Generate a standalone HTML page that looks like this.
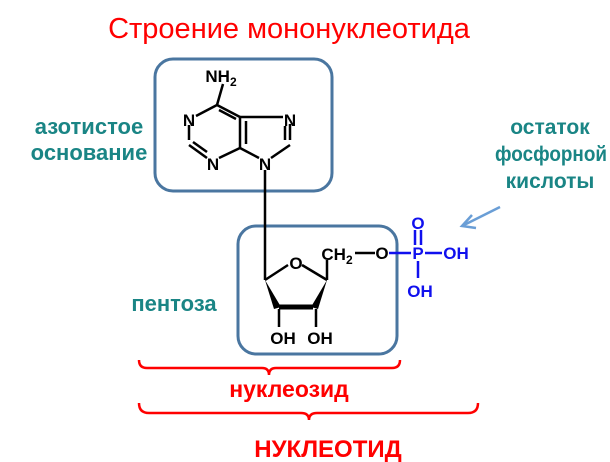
<!DOCTYPE html>
<html><head><meta charset="utf-8"><style>
body{margin:0;width:610px;height:462px;background:#fff;overflow:hidden}
svg{display:block}
text{font-family:"Liberation Sans",sans-serif}
</style></head><body>
<svg width="610" height="462" viewBox="0 0 610 462">
<text x="289" y="38" font-size="29" fill="#ff0000" text-anchor="middle">Строение мононуклеотида</text>
<rect x="155" y="59" width="177" height="132" rx="18" fill="none" stroke="#4a76a0" stroke-width="3"/>
<rect x="238" y="226" width="159" height="128" rx="18" fill="none" stroke="#4a76a0" stroke-width="3"/>
<g font-weight="bold" fill="#1a8585" font-size="22">
<text x="89" y="134" text-anchor="middle">азотистое</text>
<text x="89" y="160" text-anchor="middle">основание</text>
<text x="174" y="311" text-anchor="middle">пентоза</text>
</g>
<g font-weight="bold" fill="#1a8585" font-size="21">
<text x="550" y="134" text-anchor="middle">остаток</text>
<text x="495" y="161" textLength="112" lengthAdjust="spacingAndGlyphs">фосфорной</text>
<text x="550" y="188" text-anchor="middle">кислоты</text>
</g>
<line x1="500" y1="207" x2="464" y2="225" stroke="#6a9ed6" stroke-width="2.5"/>
<polyline points="472,215 462,226 476,228" fill="none" stroke="#6a9ed6" stroke-width="2.5"/>
<g stroke="#000" stroke-width="2.5" fill="none">
<line x1="223" y1="84" x2="217" y2="105"/>
<line x1="217" y1="105" x2="196" y2="116"/>
<line x1="217" y1="105" x2="240" y2="117"/>
<line x1="219" y1="110" x2="236" y2="119"/>
<line x1="189" y1="125" x2="189" y2="140"/>
<line x1="189" y1="145" x2="207" y2="158"/>
<line x1="193" y1="142" x2="207" y2="152"/>
<line x1="219" y1="158" x2="240" y2="148"/>
<line x1="240" y1="148" x2="240" y2="117"/>
<line x1="246" y1="144" x2="246" y2="121"/>
<line x1="240" y1="117" x2="283" y2="117"/>
<line x1="290" y1="124" x2="290" y2="140"/>
<line x1="285" y1="126" x2="285" y2="140"/>
<line x1="290" y1="145" x2="271" y2="158"/>
<line x1="240" y1="148" x2="259" y2="158"/>
<line x1="265" y1="170" x2="265" y2="280"/>
<line x1="265" y1="280" x2="288" y2="265"/>
<line x1="302" y1="265" x2="327" y2="280"/>
<line x1="327" y1="280" x2="327" y2="260"/>
<line x1="279" y1="307" x2="313" y2="307" stroke-width="5"/>
<line x1="279" y1="309" x2="279" y2="327"/>
<line x1="316" y1="309" x2="316" y2="327"/>
<line x1="355" y1="253" x2="375" y2="253"/>
</g>
<polygon points="265,280 274,309 281,307" fill="#000"/>
<polygon points="327,280 311,307 318,309" fill="#000"/>
<g font-size="17" fill="#000" text-anchor="middle" font-weight="bold">
<text x="221" y="82">NH<tspan font-size="12" dy="4">2</tspan></text>
<text x="189" y="126">N</text>
<text x="213" y="170">N</text>
<text x="290" y="126">N</text>
<text x="265" y="170">N</text>
<text x="296" y="269">O</text>
<text x="283" y="344">OH</text>
<text x="320" y="344">OH</text>
<text x="337" y="260">CH<tspan font-size="12" dy="4">2</tspan></text>
<text x="382" y="259">O</text>
</g>
<g stroke="#1010ee" stroke-width="2.5">
<line x1="389" y1="253" x2="411" y2="253"/>
<line x1="425" y1="253" x2="442" y2="253"/>
<line x1="415" y1="230" x2="415" y2="245"/>
<line x1="421" y1="230" x2="421" y2="245"/>
<line x1="418" y1="261" x2="418" y2="278"/>
</g>
<g font-size="17" fill="#1010ee" text-anchor="middle" font-weight="bold">
<text x="418" y="229">O</text>
<text x="418" y="259">P</text>
<text x="456" y="259">OH</text>
<text x="420" y="297">OH</text>
</g>
<g stroke="#ff0000" stroke-width="2.5" fill="none">
<path d="M139,360 Q139,368 147,368 L262,368 Q269,368 269,375 Q269,368 276,368 L392,368 Q400,368 400,360"/>
<path d="M139,403 Q139,413 149,413 L301,413 Q309,413 309,420 Q309,413 317,413 L468,413 Q478,413 478,403"/>
</g>
<text x="289" y="397" font-size="23" font-weight="bold" fill="#ff0000" text-anchor="middle">нуклеозид</text>
<text x="328" y="457" font-size="24" font-weight="bold" fill="#ff0000" text-anchor="middle">НУКЛЕОТИД</text>
</svg>
</body></html>
